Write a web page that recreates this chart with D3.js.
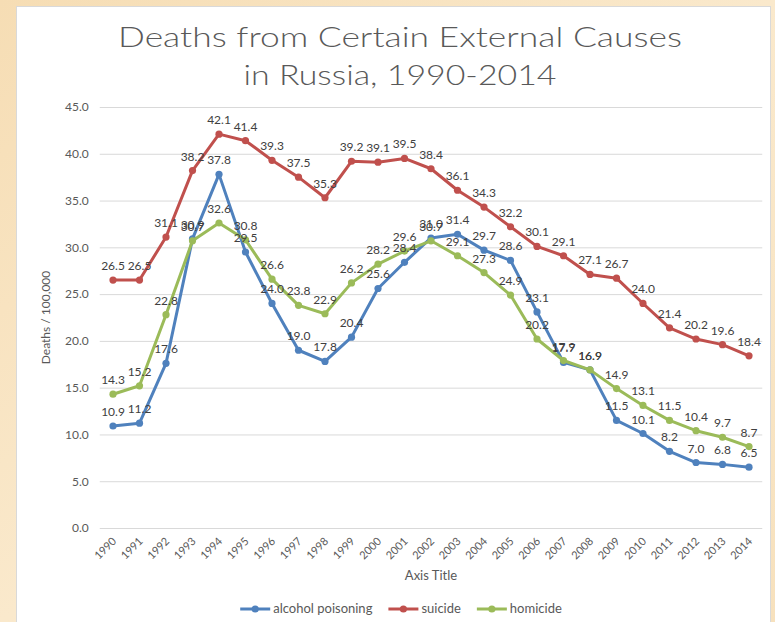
<!DOCTYPE html>
<html>
<head>
<meta charset="utf-8">
<script src="https://cdn.jsdelivr.net/npm/d3@7"></script>
<style>
  html, body { margin: 0; padding: 0; background: #f8e5c4; }
  svg { display: block; }
</style>
</head>
<body>
<svg id="chart" width="775" height="622"></svg>
<script>
const years = ["1990","1991","1992","1993","1994","1995","1996","1997","1998","1999","2000","2001","2002","2003","2004","2005","2006","2007","2008","2009","2010","2011","2012","2013","2014"];
const alcoholPoisoning = [10.9,11.2,17.6,30.9,37.8,29.5,24.0,19.0,17.8,20.4,25.6,28.4,31.0,31.4,29.7,28.6,23.1,17.7,16.9,11.5,10.1,8.2,7.0,6.8,6.5];
const suicide = [26.5,26.5,31.1,38.2,42.1,41.4,39.3,37.5,35.3,39.2,39.1,39.5,38.4,36.1,34.3,32.2,30.1,29.1,27.1,26.7,24.0,21.4,20.2,19.6,18.4];
const homicide = [14.3,15.2,22.8,30.7,32.6,30.8,26.6,23.8,22.9,26.2,28.2,29.6,30.7,29.1,27.3,24.9,20.2,17.9,16.9,14.9,13.1,11.5,10.4,9.7,8.7];
const seriesNames = ["alcohol poisoning","suicide","homicide"];
const seriesColors = ["#4f81bd","#c0504d","#9bbb59"];
const yTicks = [0,5,10,15,20,25,30,35,40,45];
const titleLines = ["Deaths from Certain External Causes","in Russia, 1990-2014"];
const yTitle = "Deaths / 100,000";
const xTitle = "Axis Title";

const series = [alcoholPoisoning, suicide, homicide].map((v, i) => ({name: seriesNames[i], color: seriesColors[i], values: v}));

const svg = d3.select("#chart");
const FONT = "Lato, 'Open Sans', sans-serif";

// background
const defs = svg.append("defs");
const grad = defs.append("linearGradient").attr("id","bg").attr("x1","0").attr("y1","0").attr("x2","1").attr("y2","1");
grad.append("stop").attr("offset","0").attr("stop-color","#f6ddb4");
grad.append("stop").attr("offset","0.5").attr("stop-color","#fae9cc");
grad.append("stop").attr("offset","1").attr("stop-color","#f7e1bd");
svg.append("rect").attr("width",775).attr("height",622).attr("fill","url(#bg)");

// white chart panel
svg.append("rect").attr("x",16.5).attr("y",6.5).attr("width",754).attr("height",630)
  .attr("fill","#ffffff").attr("stroke","#d9d9d9").attr("stroke-width",1);

const plot = {left: 99.75, right: 762.25, top: 107, bottom: 528};

const x = d3.scaleBand().domain(years).range([plot.left, plot.right]);
const y = d3.scaleLinear().domain([0,45]).range([plot.bottom, plot.top]);
const cx = d => x(d) + x.bandwidth()/2;

// title
const titleWidths = [564, 313];
titleLines.forEach((t, i) => {
  svg.append("text").attr("x",400).attr("y", 47 + i*38).attr("text-anchor","middle").attr("fill","#595959")
    .style("font-family", "Lato, 'Open Sans', sans-serif").style("font-size","28px").style("font-weight",300)
    .attr("textLength", titleWidths[i]).attr("lengthAdjust","spacingAndGlyphs")
    .text(t);
});

// gridlines + y axis
const yAxis = d3.axisLeft(y).tickValues(yTicks).tickFormat(d3.format(".1f")).tickSize(-(plot.right - plot.left)).tickPadding(11);
const gy = svg.append("g").attr("transform",`translate(${plot.left},0)`).call(yAxis);
gy.select(".domain").remove();
gy.selectAll(".tick line").attr("stroke","#d9d9d9").attr("stroke-width",1);
gy.selectAll(".tick text").attr("fill","#595959").style("font-family",FONT).style("font-size","12px");

// x axis labels
const xAxis = d3.axisBottom(x).tickSize(0).tickPadding(0);
const gx = svg.append("g").attr("transform",`translate(0,${plot.bottom})`).call(xAxis);
gx.select(".domain").remove();
gx.selectAll(".tick text")
  .attr("fill","#595959").style("font-family",FONT).style("font-size","11px")
  .attr("text-anchor","end")
  .attr("y",0).attr("dy",0)
  .attr("transform","translate(4,14) rotate(-45)");

// axis titles
svg.append("text").attr("x",(plot.left+plot.right)/2).attr("y",580).attr("text-anchor","middle")
  .attr("fill","#595959").style("font-family",FONT).style("font-size","13px").text(xTitle);
svg.append("text").attr("transform",`translate(50,${(plot.top+plot.bottom)/2}) rotate(-90)`).attr("text-anchor","middle")
  .attr("fill","#595959").style("font-family",FONT).style("font-size","12px").text(yTitle);

// lines
const line = d3.line().x((d,i) => cx(years[i])).y(d => y(d));
series.forEach(s => {
  const g = svg.append("g");
  g.append("path").attr("d", line(s.values)).attr("fill","none").attr("stroke",s.color)
    .attr("stroke-width",3).attr("stroke-linejoin","round").attr("stroke-linecap","round");
  g.selectAll("circle").data(s.values).join("circle")
    .attr("cx",(d,i) => cx(years[i])).attr("cy", d => y(d)).attr("r",3.6).attr("fill",s.color);
});

// data labels
series.forEach(s => {
  svg.append("g").selectAll("text").data(s.values).join("text")
    .attr("x",(d,i) => cx(years[i])).attr("y", d => y(d) - 10)
    .attr("text-anchor","middle").attr("fill","#404040")
    .style("font-family",FONT).style("font-size","12px")
    .text(d => d3.format(".1f")(d));
});

// legend
const legend = svg.append("g");
let lx = 0;
series.forEach(s => {
  const g = legend.append("g").attr("transform",`translate(${lx},0)`);
  g.append("line").attr("x1",0).attr("x2",30).attr("y1",0).attr("y2",0).attr("stroke",s.color).attr("stroke-width",3);
  g.append("circle").attr("cx",15).attr("cy",0).attr("r",3.6).attr("fill",s.color);
  const t = g.append("text").attr("x",33).attr("y",4).attr("fill","#595959")
    .style("font-family",FONT).style("font-size","13px").text(s.name);
  const w = t.node().getComputedTextLength();
  lx += 33 + w + 16;
});
const totalW = lx - 16;
legend.attr("transform",`translate(${401 - totalW/2},609)`);
</script>
</body>
</html>
